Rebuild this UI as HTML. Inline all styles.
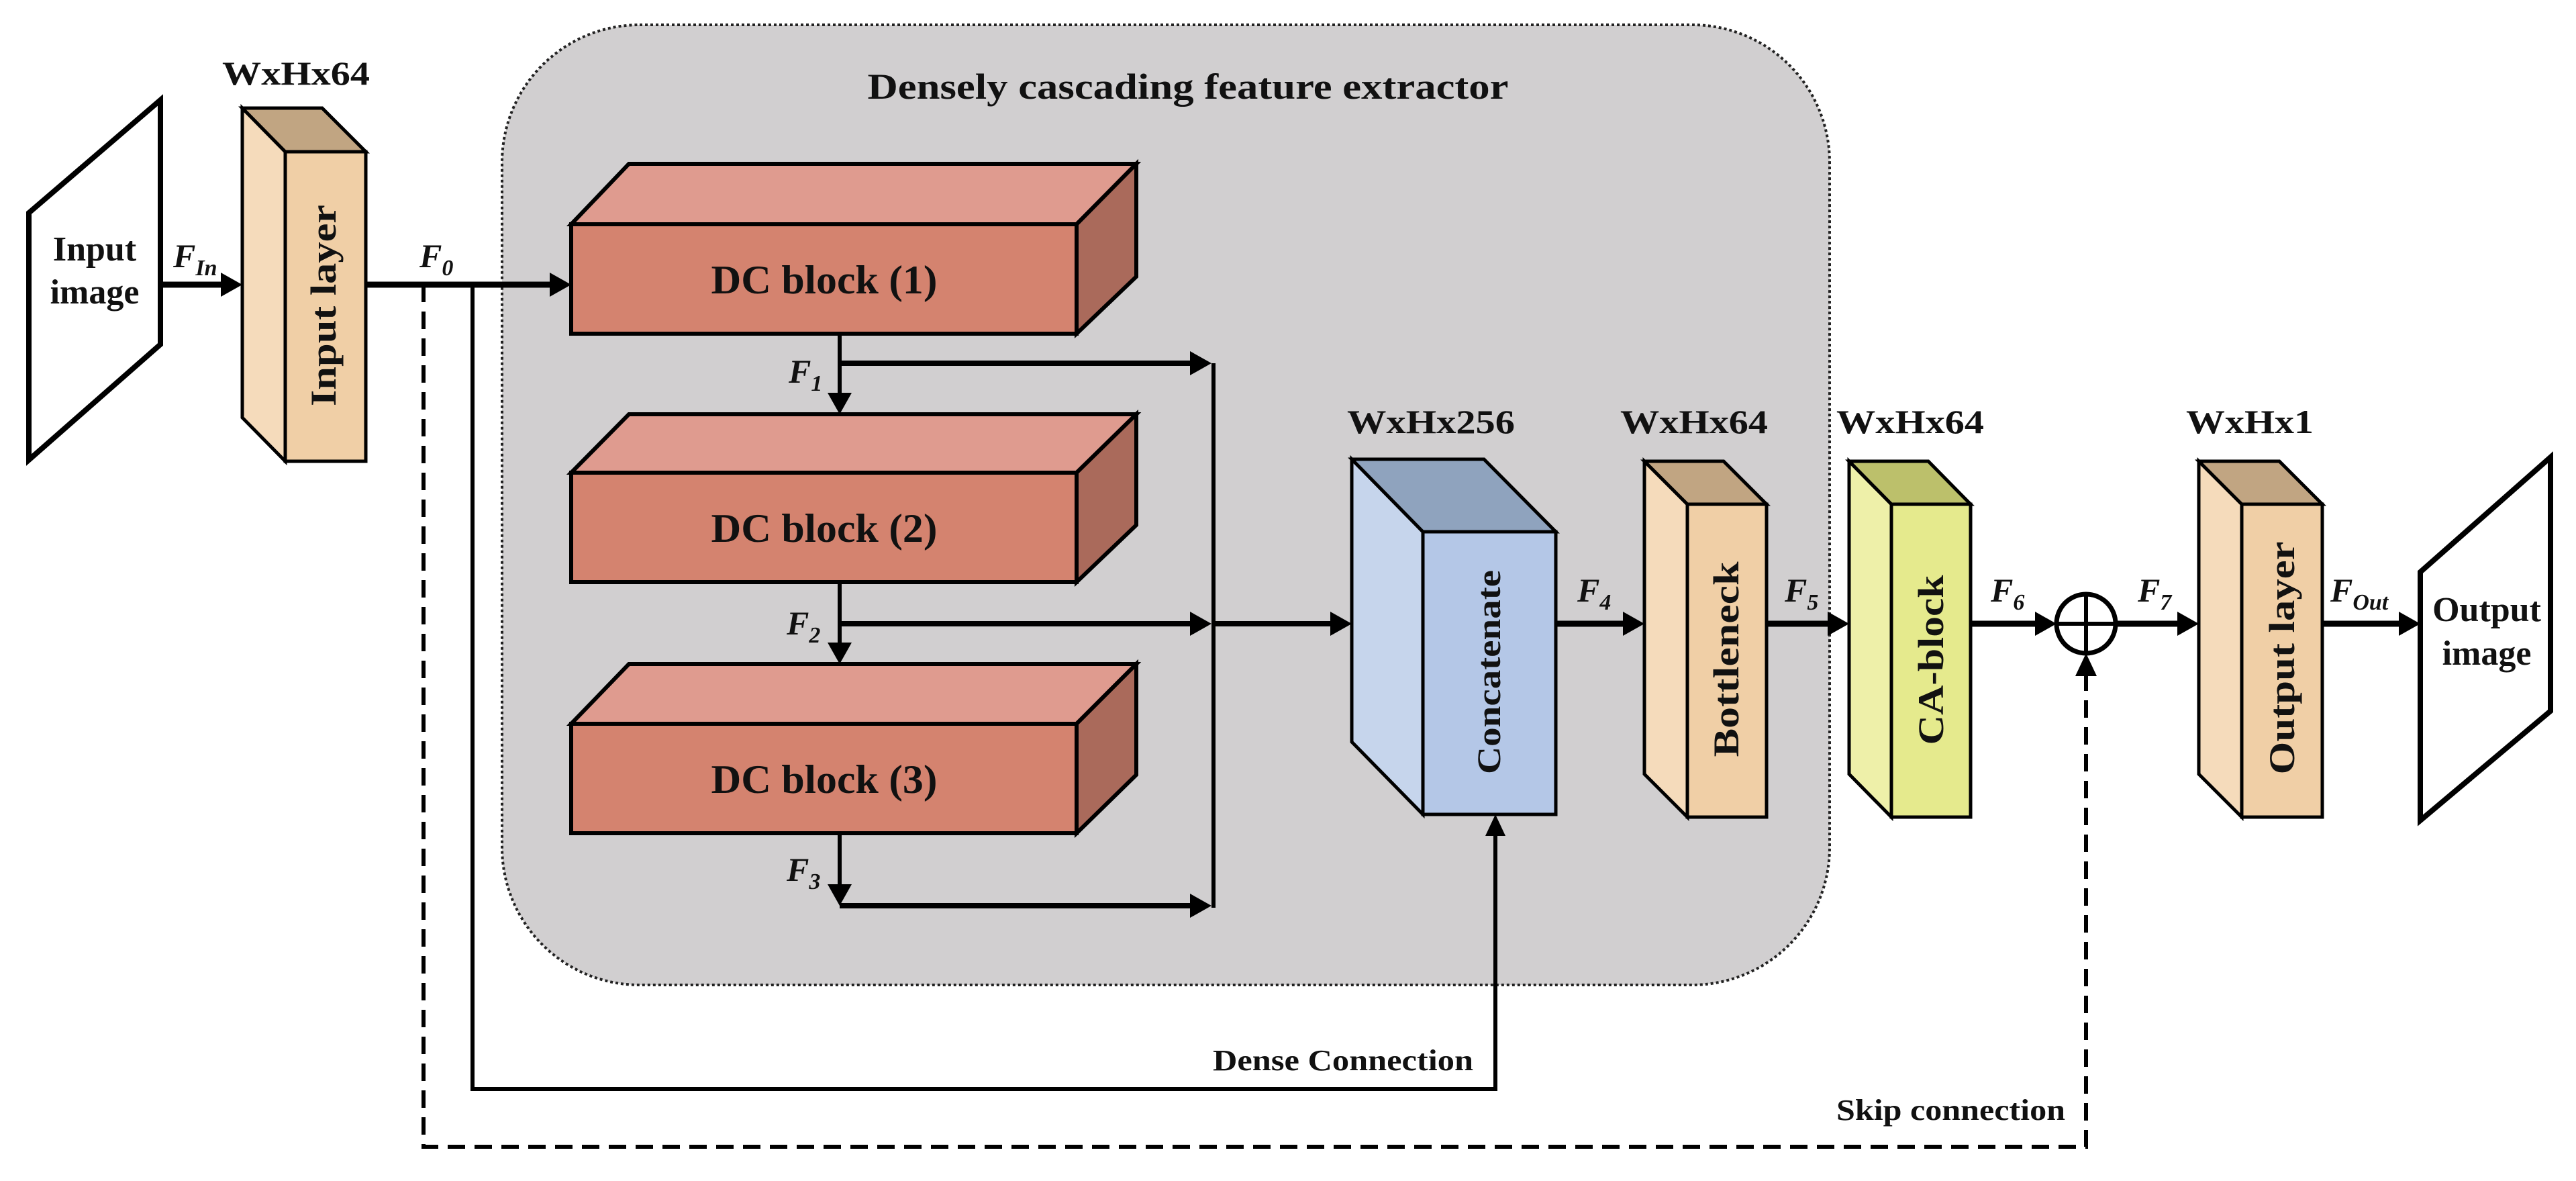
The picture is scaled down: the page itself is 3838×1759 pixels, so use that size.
<!DOCTYPE html>
<html><head><meta charset="utf-8"><style>
html,body{margin:0;padding:0;background:#fff;}
svg{display:block;}
text{font-family:"Liberation Serif",serif;fill:#111;}
</style></head><body>
<svg width="3838" height="1759" viewBox="0 0 3838 1759" xmlns="http://www.w3.org/2000/svg">
<defs>
<marker id="ah" markerWidth="10" markerHeight="10" refX="9" refY="5" orient="auto" markerUnits="userSpaceOnUse" viewBox="0 0 10 10" >
</marker>
</defs>
<!-- gray region -->
<rect x="748" y="37" width="1978" height="1430" rx="205" ry="205" fill="#d1cfd0" stroke="#222" stroke-width="4" stroke-dasharray="4,4"/>
<text x="1770" y="147" font-size="54" font-weight="bold" text-anchor="middle" textLength="955" lengthAdjust="spacingAndGlyphs">Densely cascading feature extractor</text>

<!-- input image -->
<polygon points="43,317 239,149 239,513 43,685" fill="#fff" stroke="#000" stroke-width="8"/>
<text x="141" y="388" font-size="52" font-weight="bold" text-anchor="middle">Input</text>
<text x="141" y="452" font-size="52" font-weight="bold" text-anchor="middle">image</text>

<!-- input layer -->
<polygon points="361,161 425,226 425,687 361,622" fill="#f5dbbb" stroke="#000" stroke-width="5"/>
<polygon points="361,161 480,161 545,226 425,226" fill="#c1a582" stroke="#000" stroke-width="5"/>
<rect x="425" y="226" width="120" height="461" fill="#f0cfa6" stroke="#000" stroke-width="5"/>
<text transform="translate(500,455) rotate(-90)" font-size="54" font-weight="bold" text-anchor="middle" textLength="300" lengthAdjust="spacingAndGlyphs">Input layer</text>
<text x="441" y="126" font-size="50" font-weight="bold" text-anchor="middle" textLength="220" lengthAdjust="spacingAndGlyphs">WxHx64</text>

<!-- DC blocks -->
<g stroke="#000" stroke-width="6">
<polygon points="851,334 937,244 1693,244 1604,334" fill="#df9b8f"/>
<polygon points="1604,334 1693,244 1693,412 1604,497" fill="#aa6a5b"/>
<rect x="851" y="334" width="753" height="163" fill="#d4836f"/>
<polygon points="851,704 937,617 1693,617 1604,704" fill="#df9b8f"/>
<polygon points="1604,704 1693,617 1693,782 1604,867" fill="#aa6a5b"/>
<rect x="851" y="704" width="753" height="163" fill="#d4836f"/>
<polygon points="851,1078 937,989 1693,989 1604,1078" fill="#df9b8f"/>
<polygon points="1604,1078 1693,989 1693,1154 1604,1241" fill="#aa6a5b"/>
<rect x="851" y="1078" width="753" height="163" fill="#d4836f"/>
</g>
<text x="1228" y="437" font-size="60" font-weight="bold" text-anchor="middle" textLength="337" lengthAdjust="spacingAndGlyphs">DC block (1)</text>
<text x="1228" y="807" font-size="60" font-weight="bold" text-anchor="middle" textLength="337" lengthAdjust="spacingAndGlyphs">DC block (2)</text>
<text x="1228" y="1181" font-size="60" font-weight="bold" text-anchor="middle" textLength="337" lengthAdjust="spacingAndGlyphs">DC block (3)</text>

<!-- concatenate -->
<g stroke="#000" stroke-width="5">
<polygon points="2014,684 2120,792 2120,1213 2014,1105" fill="#c6d5ec"/>
<polygon points="2014,684 2211,684 2318,792 2120,792" fill="#8fa3be"/>
<rect x="2120" y="792" width="198" height="421" fill="#b4c7e7"/>
</g>
<text transform="translate(2235,1001) rotate(-90)" font-size="50" font-weight="bold" text-anchor="middle" textLength="304" lengthAdjust="spacingAndGlyphs">Concatenate</text>
<text x="2132" y="645" font-size="50" font-weight="bold" text-anchor="middle" textLength="250" lengthAdjust="spacingAndGlyphs">WxHx256</text>

<!-- bottleneck -->
<g stroke="#000" stroke-width="5">
<polygon points="2450,687 2514,751 2514,1217 2450,1153" fill="#f5dbbb"/>
<polygon points="2450,687 2568,687 2632,751 2514,751" fill="#c1a582"/>
<rect x="2514" y="751" width="118" height="466" fill="#f0cfa6"/>
<polygon points="2755,687 2818,751 2818,1217 2755,1153" fill="#eef0a9"/>
<polygon points="2755,687 2873,687 2936,751 2818,751" fill="#bcc06b"/>
<rect x="2818" y="751" width="118" height="466" fill="#e5ea8d"/>
<polygon points="3276,687 3340,751 3340,1217 3276,1153" fill="#f5dbbb"/>
<polygon points="3276,687 3396,687 3460,751 3340,751" fill="#c1a582"/>
<rect x="3340" y="751" width="120" height="466" fill="#f0cfa6"/>
</g>
<text transform="translate(2590,982) rotate(-90)" font-size="54" font-weight="bold" text-anchor="middle" textLength="291" lengthAdjust="spacingAndGlyphs">Bottleneck</text>
<text transform="translate(2895,983) rotate(-90)" font-size="54" font-weight="bold" text-anchor="middle" textLength="253" lengthAdjust="spacingAndGlyphs">CA-block</text>
<text transform="translate(3418,980) rotate(-90)" font-size="54" font-weight="bold" text-anchor="middle" textLength="347" lengthAdjust="spacingAndGlyphs">Output layer</text>
<text x="2524" y="645" font-size="50" font-weight="bold" text-anchor="middle" textLength="220" lengthAdjust="spacingAndGlyphs">WxHx64</text>
<text x="2846" y="645" font-size="50" font-weight="bold" text-anchor="middle" textLength="220" lengthAdjust="spacingAndGlyphs">WxHx64</text>
<text x="3352" y="645" font-size="50" font-weight="bold" text-anchor="middle" textLength="190" lengthAdjust="spacingAndGlyphs">WxHx1</text>

<!-- output image -->
<polygon points="3606,852 3800,681 3800,1059 3606,1222" fill="#fff" stroke="#000" stroke-width="8"/>
<text x="3705" y="925" font-size="52" font-weight="bold" text-anchor="middle">Output</text>
<text x="3705" y="990" font-size="52" font-weight="bold" text-anchor="middle">image</text>

<!-- circle -->
<circle cx="3108" cy="929" r="44" fill="#fff" stroke="#000" stroke-width="7"/>
<line x1="3064" y1="929" x2="3152" y2="929" stroke="#000" stroke-width="6"/>
<line x1="3108" y1="885" x2="3108" y2="973" stroke="#000" stroke-width="6"/>

<!-- connectors -->
<g stroke="#000" fill="none">
<line x1="239" y1="424" x2="335" y2="424" stroke-width="9"/>
<line x1="545" y1="424" x2="825" y2="424" stroke-width="9"/>
<polyline points="631,424 631,1708 3108,1708 3108,1005" stroke-width="6" stroke-dasharray="26,14"/>
<polyline points="704,424 704,1622 2228,1622 2228,1240" stroke-width="6"/>
<line x1="1251" y1="497" x2="1251" y2="592" stroke-width="6"/>
<line x1="1251" y1="541" x2="1780" y2="541" stroke-width="8"/>
<line x1="1251" y1="867" x2="1251" y2="964" stroke-width="6"/>
<line x1="1251" y1="929" x2="1780" y2="929" stroke-width="8"/>
<line x1="1251" y1="1241" x2="1251" y2="1325" stroke-width="6"/>
<line x1="1251" y1="1349" x2="1780" y2="1349" stroke-width="8"/>
<line x1="1808" y1="541" x2="1808" y2="1352" stroke-width="6"/>
<line x1="1808" y1="929" x2="1988" y2="929" stroke-width="8"/>
<line x1="2318" y1="929" x2="2424" y2="929" stroke-width="9"/>
<line x1="2632" y1="929" x2="2729" y2="929" stroke-width="9"/>
<line x1="2936" y1="929" x2="3036" y2="929" stroke-width="9"/>
<line x1="3152" y1="929" x2="3250" y2="929" stroke-width="9"/>
<line x1="3460" y1="929" x2="3580" y2="929" stroke-width="9"/>
</g>
<g fill="#000">
<polygon points="361,424 329,406 329,442"/>
<polygon points="851,424 819,406 819,442"/>
<polygon points="1251,617 1233,585 1269,585"/>
<polygon points="1805,541 1773,523 1773,559"/>
<polygon points="1251,989 1233,957 1269,957"/>
<polygon points="1805,929 1773,911 1773,947"/>
<polygon points="1251,1349 1233,1317 1269,1317"/>
<polygon points="1805,1349 1773,1331 1773,1367"/>
<polygon points="2014,929 1982,911 1982,947"/>
<polygon points="2228,1213 2213,1245 2243,1245"/>
<polygon points="2450,929 2418,911 2418,947"/>
<polygon points="2755,929 2723,911 2723,947"/>
<polygon points="3064,929 3032,911 3032,947"/>
<polygon points="3276,929 3244,911 3244,947"/>
<polygon points="3606,929 3574,911 3574,947"/>
<polygon points="3108,973 3092,1007 3124,1007"/>
</g>

<!-- F labels -->
<g font-size="50" font-style="italic" font-weight="bold">
<text x="258" y="398">F<tspan font-size="34" dy="12">In</tspan></text>
<text x="625" y="398">F<tspan font-size="34" dy="12">0</tspan></text>
<text x="1175" y="570">F<tspan font-size="34" dy="12">1</tspan></text>
<text x="1172" y="945">F<tspan font-size="34" dy="12">2</tspan></text>
<text x="1172" y="1312">F<tspan font-size="34" dy="12">3</tspan></text>
<text x="2350" y="896">F<tspan font-size="34" dy="12">4</tspan></text>
<text x="2659" y="896">F<tspan font-size="34" dy="12">5</tspan></text>
<text x="2966" y="896">F<tspan font-size="34" dy="12">6</tspan></text>
<text x="3185" y="896">F<tspan font-size="34" dy="12">7</tspan></text>
<text x="3472" y="896">F<tspan font-size="34" dy="12">Out</tspan></text>
</g>

<text x="2195" y="1594" font-size="44" font-weight="bold" text-anchor="end" textLength="388" lengthAdjust="spacingAndGlyphs">Dense Connection</text>
<text x="3077" y="1668" font-size="44" font-weight="bold" text-anchor="end" textLength="341" lengthAdjust="spacingAndGlyphs">Skip connection</text>
</svg>
</body></html>
